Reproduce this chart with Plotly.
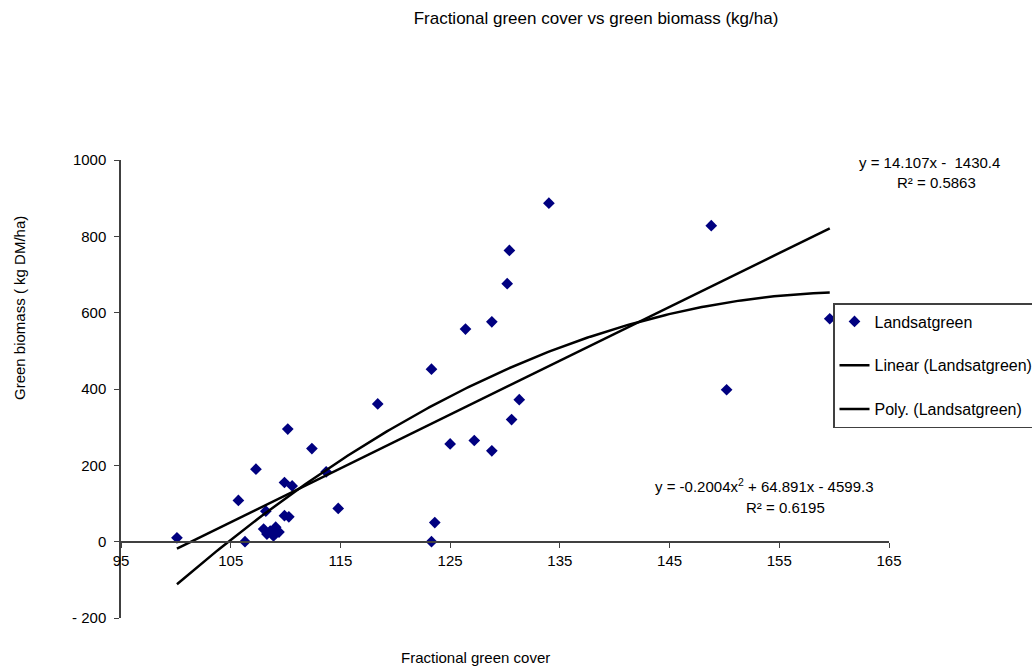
import numpy as np
import plotly.graph_objects as go

# Data
cover = [100.1, 105.7, 106.3, 107.3, 108.2, 108.0, 108.3, 108.6, 108.9, 109.1, 109.4,
         109.9, 110.3, 109.9, 110.6, 110.2, 112.4, 113.7, 114.8, 118.4, 123.3, 123.6,
         123.3, 125.0, 126.4, 127.2, 128.8, 128.8, 130.2, 130.4, 130.6, 131.3, 134.0,
         148.8, 150.2, 159.6]
biomass = [10, 108, 0, 190, 80, 33, 20, 28, 15, 38, 25,
           68, 65, 155, 146, 295, 244, 183, 87, 361, 452, 50,
           0, 256, 557, 265, 576, 238, 676, 763, 320, 372, 887,
           828, 398, 584]

linear_coef = [14.107, -1430.4]          # y = a x + b
poly_coef = [-0.2004, 64.891, -4599.3]   # y = a x^2 + b x + c

x_ticks = [95, 105, 115, 125, 135, 145, 155, 165]
y_ticks = [-200, 0, 200, 400, 600, 800, 1000]
y_ticktext = ["- 200", "0", "200", "400", "600", "800", "1000"]

xs = np.linspace(min(cover), max(cover), 200)
y_lin = np.polyval(linear_coef, xs)
y_poly = np.polyval(poly_coef, xs)

FONT = "Liberation Sans, Arial, sans-serif"

fig = go.Figure()
fig.add_trace(go.Scatter(
    x=cover, y=biomass, mode="markers", name="Landsatgreen",
    marker=dict(symbol="diamond", size=9, color="#000080"),
    legendgroup="a"))
fig.add_trace(go.Scatter(
    x=xs, y=y_lin, mode="lines", name="Linear (Landsatgreen)",
    line=dict(color="black", width=2.5), legendgroup="b"))
fig.add_trace(go.Scatter(
    x=xs, y=y_poly, mode="lines", name="Poly. (Landsatgreen)",
    line=dict(color="black", width=2.5), legendgroup="c"))

fig.update_layout(
    width=1032, height=669,
    margin=dict(l=121, r=143, t=160, b=51, autoexpand=False),
    plot_bgcolor="white", paper_bgcolor="white",
    font=dict(family=FONT, size=15, color="black"),
    title=dict(text="Fractional green cover vs green biomass (kg/ha)",
               x=596 / 1032, xanchor="center", y=1 - 18 / 669, yanchor="middle",
               font=dict(size=17)),
    showlegend=True,
    legend=dict(x=(833 - 121) / 768, xanchor="left", y=(618 - 303) / 458, yanchor="top",
                bordercolor="#404040", borderwidth=1.5, bgcolor="white",
                traceorder="grouped", tracegroupgap=20, font=dict(size=16)),
    xaxis=dict(range=[95, 165], tickvals=x_ticks, showgrid=False, zeroline=False,
               showline=True, linecolor="#404040", linewidth=1.5,
               ticks="outside", ticklen=5, tickcolor="#404040",
               anchor="free", position=(618 - 542) / 458,
               tickfont=dict(size=15)),
    yaxis=dict(range=[-200, 1000], tickvals=y_ticks, ticktext=y_ticktext,
               showgrid=False, zeroline=False,
               showline=True, linecolor="#404040", linewidth=1.5,
               ticks="outside", ticklen=5, tickcolor="#404040",
               ticklabelstandoff=5,
               tickfont=dict(size=15)),
    annotations=[
        dict(text="Green biomass ( kg DM/ha)", xref="paper", yref="paper",
             x=(19 - 121) / 768, y=(618 - 308) / 458, textangle=-90,
             showarrow=False, font=dict(size=15), xanchor="center", yanchor="middle"),
        dict(text="Fractional green cover", xref="paper", yref="paper",
             x=(475 - 121) / 768, y=(618 - 657) / 458,
             showarrow=False, font=dict(size=15), xanchor="center", yanchor="middle"),
        dict(text="y = 14.107x -  1430.4", xref="paper", yref="paper",
             x=(929 - 121) / 768, y=(618 - 163) / 458,
             showarrow=False, font=dict(size=15), xanchor="center", yanchor="middle"),
        dict(text="R² = 0.5863", xref="paper", yref="paper",
             x=(936 - 121) / 768, y=(618 - 183) / 458,
             showarrow=False, font=dict(size=15), xanchor="center", yanchor="middle"),
        dict(text="y = -0.2004x<sup>2</sup> + 64.891x - 4599.3", xref="paper", yref="paper",
             x=(764 - 121) / 768, y=(618 - 485) / 458,
             showarrow=False, font=dict(size=15), xanchor="center", yanchor="middle"),
        dict(text="R² = 0.6195", xref="paper", yref="paper",
             x=(785 - 121) / 768, y=(618 - 507) / 458,
             showarrow=False, font=dict(size=15), xanchor="center", yanchor="middle"),
    ],
)

fig.write_html("out.html")
